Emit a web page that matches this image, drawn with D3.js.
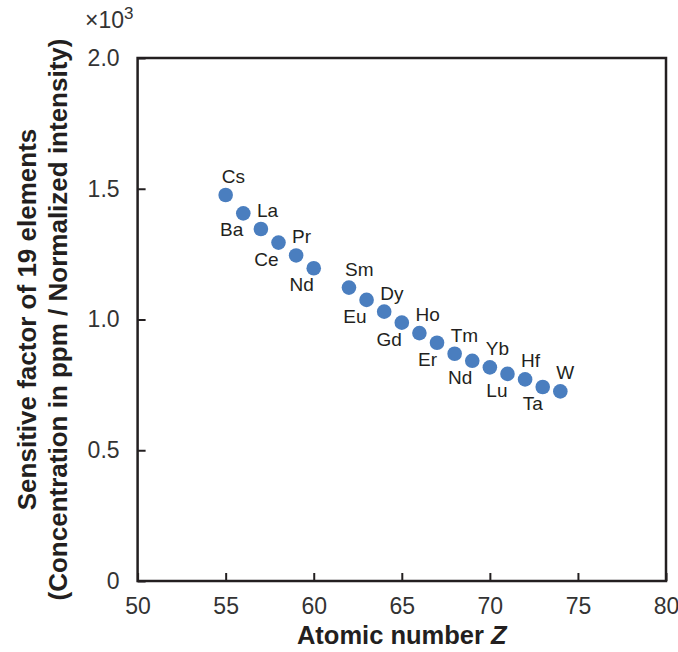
<!DOCTYPE html>
<html>
<head>
<meta charset="utf-8">
<script src="https://cdn.jsdelivr.net/npm/d3@7"></script>
<style>
  html, body { margin: 0; padding: 0; background: #fff; }
  svg { display: block; font-family: Arial, "Liberation Sans", Helvetica, sans-serif; }
</style>
</head>
<body>
<svg id="chart" width="678" height="652"></svg>
<script>
// Sensitivity factors (×10³) of 19 elements versus atomic number
const elements = ["Cs","Ba","La","Ce","Pr","Nd","Sm","Eu","Dy","Gd","Ho","Er","Tm","Nd","Yb","Lu","Hf","Ta","W"];
const atomicNumbers = [55,56,57,58,59,60,62,63,64,65,66,67,68,69,70,71,72,73,74];
const factors = [1.476,1.406,1.346,1.294,1.245,1.196,1.122,1.075,1.030,0.988,0.948,0.911,0.869,0.842,0.817,0.792,0.771,0.742,0.725];
const labelSide = ["above","below","above","below","above","below","above","below","above","below",
                   "above","below","above","below","above","below","above","below","above"];
const xTicks = [50,55,60,65,70,75,80];
const yTicks = [0,0.5,1.0,1.5,2.0];

const svg = d3.select("#chart");
const plotLeft = 137.6, plotRight = 666, plotTop = 58, plotBottom = 581;
const ink = "#231f20";

const x = d3.scaleLinear().domain([50, 80]).range([plotLeft, plotRight]);
const y = d3.scaleLinear().domain([0, 2.0]).range([plotBottom, plotTop]);

// frame
svg.append("rect")
  .attr("x", plotLeft).attr("y", plotTop)
  .attr("width", plotRight - plotLeft).attr("height", plotBottom - plotTop)
  .attr("fill", "none").attr("stroke", ink).attr("stroke-width", 2.5);

// x axis with inward ticks
const xAxis = svg.append("g")
  .attr("transform", `translate(0,${plotBottom})`)
  .call(d3.axisBottom(x).tickValues(xTicks).tickSizeInner(-8).tickSizeOuter(0).tickPadding(17)
        .tickFormat(d3.format("d")));
xAxis.select(".domain").remove();
xAxis.selectAll(".tick line").attr("stroke", ink).attr("stroke-width", 2);
xAxis.selectAll(".tick text").attr("font-size", 23).attr("fill", "#333").attr("font-family", null);

// y axis with inward ticks
const yAxis = svg.append("g")
  .attr("transform", `translate(${plotLeft},0)`)
  .call(d3.axisLeft(y).tickValues(yTicks).tickSizeInner(-8).tickSizeOuter(0).tickPadding(18)
        .tickFormat(d => d === 0 ? "0" : d3.format(".1f")(d)));
yAxis.select(".domain").remove();
yAxis.selectAll(".tick line").attr("stroke", ink).attr("stroke-width", 2);
yAxis.selectAll(".tick text").attr("font-size", 23).attr("fill", "#333").attr("font-family", null);

// multiplier
const mult = svg.append("text").attr("x", 85).attr("y", 28)
  .attr("font-size", 23).attr("fill", "#333");
mult.append("tspan").text("×10");
mult.append("tspan").attr("font-size", 17).attr("dy", -9).text("3");

// axis titles
const xt = svg.append("text")
  .attr("x", (plotLeft + plotRight) / 2).attr("y", 644)
  .attr("text-anchor", "middle").attr("font-size", 25.5).attr("font-weight", "bold").attr("fill", ink);
xt.append("tspan").text("Atomic number ");
xt.append("tspan").attr("font-style", "italic").text("Z");

const cy = (plotTop + plotBottom) / 2;
svg.append("text")
  .attr("transform", `translate(36,${cy}) rotate(-90)`)
  .attr("text-anchor", "middle").attr("font-size", 26).attr("font-weight", "bold").attr("fill", ink)
  .text("Sensitive factor of 19 elements");
svg.append("text")
  .attr("transform", `translate(67,${cy}) rotate(-90)`)
  .attr("text-anchor", "middle").attr("font-size", 26).attr("font-weight", "bold").attr("fill", ink)
  .text("(Concentration in ppm / Normalized intensity)");

// points
const pts = elements.map((e, i) => ({ el: e, z: atomicNumbers[i], v: factors[i], side: labelSide[i] }));

svg.append("g").selectAll("circle").data(pts).join("circle")
  .attr("cx", d => x(d.z)).attr("cy", d => y(d.v))
  .attr("r", 7.3).attr("fill", "#4a7ebf");

svg.append("g").selectAll("text").data(pts).join("text")
  .attr("x", d => x(d.z) + (d.side === "above" ? -4 : 0))
  .attr("y", d => y(d.v) + (d.side === "above" ? -12 : 23))
  .attr("text-anchor", d => d.side === "above" ? "start" : "end")
  .attr("font-size", 19).attr("fill", ink)
  .text(d => d.el);
</script>
</body>
</html>
